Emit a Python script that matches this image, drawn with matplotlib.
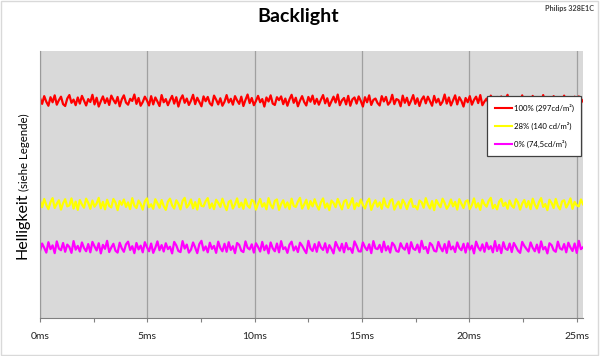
import numpy as np
import matplotlib
matplotlib.use("Agg")
import matplotlib.pyplot as plt
from matplotlib.patches import Rectangle

# --- chart data (brightness in % of axis height, time in ms) ---
T_END = 25.3
TICKS_MS = [0, 5, 10, 15, 20, 25]
TICK_LABELS = ['0ms', '5ms', '10ms', '15ms', '20ms', '25ms']
LABELS = ['100% (297cd/m²)', '28% (140 cd/m²)', '0% (74,5cd/m²)']
COLORS = ['#ff0000', '#ffff00', '#ff00ff']

red = [
    82.4, 80.2, 83.1, 81.0, 79.5, 82.7, 80.8, 83.4, 79.9, 81.6, 82.9, 80.1, 79.4, 82.2, 83.5, 80.6, 81.8, 79.7, 82.6, 80.3,
    83.2, 81.4, 79.6, 82.0, 80.9, 83.6, 80.0, 82.5, 79.2, 81.2, 83.0, 80.5, 82.3, 79.8, 83.3, 81.7, 80.4, 82.8, 79.3, 81.9,
    83.4, 80.7, 79.9, 82.1, 81.3, 83.7, 80.2, 82.4, 79.5, 80.9, 82.9, 81.5, 79.6, 83.1, 80.0, 82.6, 81.1, 79.4, 83.5, 80.8,
    82.0, 79.7, 81.6, 83.2, 80.3, 82.7, 79.2, 81.9, 83.4, 80.6, 82.2, 79.8, 81.4, 83.6, 80.1, 82.5, 80.9, 79.3, 83.0, 81.2,
    82.8, 80.4, 79.6, 83.3, 81.8, 80.0, 82.3, 79.5, 81.0, 83.5, 80.7, 82.1, 79.9, 83.1, 81.5, 80.2, 82.9, 79.4, 81.7, 83.7,
    80.5, 82.4, 79.7, 81.3, 83.2, 80.8, 82.0, 79.2, 82.6, 81.1, 83.4, 80.3, 79.8, 82.7, 81.6, 83.0, 80.1, 82.2, 79.5, 81.9,
    83.6, 80.6, 82.5, 79.3, 81.4, 83.1, 80.9, 79.6, 82.8, 81.0, 83.3, 80.2, 82.1, 79.9, 81.8, 83.5, 80.4, 82.3, 79.4, 81.2,
    82.9, 80.7, 83.7, 79.7, 81.5, 82.4, 80.0, 83.2, 79.5, 81.9, 82.6, 80.3, 83.0, 81.3, 79.2, 82.7, 80.8, 83.4, 79.8, 81.7,
    82.2, 80.5, 79.6, 83.1, 81.1, 82.8, 79.9, 80.9, 83.6, 80.1, 82.0, 81.6, 79.3, 83.3, 80.6, 82.5, 79.7, 81.4, 83.5, 80.2,
    82.3, 79.4, 81.8, 83.0, 80.4, 82.9, 81.2, 79.5, 83.2, 80.7, 82.1, 79.8, 81.0, 83.7, 80.3, 82.6, 79.6, 81.5, 83.4, 80.0,
    82.7, 81.3, 79.2, 82.4, 80.8, 83.1, 79.9, 81.7, 82.9, 80.5, 83.5, 79.7, 81.1, 82.2, 80.2, 83.3, 81.6, 79.4, 82.8, 80.6,
    83.0, 79.8, 81.9, 83.6, 80.1, 82.5, 79.5, 81.2, 82.3, 80.9, 83.4, 79.3, 82.0, 81.4, 80.4, 83.2, 79.6, 82.7, 81.0, 80.3,
    83.5, 80.7, 82.1, 79.9, 81.8, 83.1, 80.0, 82.6, 79.4, 81.5, 83.3, 80.8, 82.4, 79.7, 81.3, 82.9, 80.2, 83.0, 80.6, 81.6,
]

yellow = [
    43.9, 41.5, 44.6, 42.3, 40.8, 43.4, 44.9, 41.2, 42.8, 44.1, 40.6, 43.0, 44.5, 41.8, 42.2, 44.8, 41.0, 43.6, 40.5, 44.2,
    42.5, 41.3, 44.7, 43.1, 40.9, 44.0, 41.7, 42.9, 45.0, 41.1, 43.5, 40.7, 44.3, 42.0, 41.4, 44.6, 43.2, 40.4, 43.8, 42.4,
    44.4, 41.6, 43.3, 40.8, 44.9, 42.1, 41.2, 44.0, 42.7, 40.6, 43.7, 44.8, 41.5, 42.6, 40.9, 44.5, 43.0, 41.3, 44.2, 41.9,
    40.5, 43.6, 44.7, 42.2, 41.0, 44.1, 42.8, 40.7, 43.9, 45.0, 41.4, 42.5, 44.4, 41.1, 43.4, 40.6, 44.6, 42.0, 41.8, 43.8,
    44.9, 41.2, 42.9, 40.8, 44.3, 43.1, 41.6, 44.7, 42.3, 40.4, 43.5, 44.0, 41.0, 42.6, 44.8, 41.5, 43.2, 40.9, 44.5, 42.1,
    41.3, 44.2, 43.7, 40.6, 42.8, 44.6, 41.7, 43.0, 40.7, 44.9, 42.4, 41.1, 43.9, 44.4, 40.5, 42.7, 44.1, 41.4, 43.3, 40.8,
    44.7, 42.0, 41.6, 43.6, 45.0, 41.0, 42.5, 44.3, 40.9, 43.8, 41.8, 44.5, 42.2, 40.6, 43.4, 44.8, 41.3, 42.9, 40.4, 44.0,
    43.1, 41.5, 44.6, 42.6, 40.7, 43.7, 44.2, 41.2, 42.8, 44.9, 40.8, 43.0, 41.9, 44.4, 42.3, 41.0, 43.5, 44.7, 40.5, 42.7,
    44.1, 41.7, 43.3, 40.9, 44.8, 42.1, 41.4, 43.9, 44.5, 40.6, 42.4, 43.6, 41.1, 44.3, 42.9, 40.8, 43.2, 44.6, 41.6, 42.0,
    40.7, 44.0, 43.4, 41.3, 44.9, 42.5, 41.0, 43.8, 40.4, 44.2, 42.7, 41.5, 44.7, 43.1, 40.9, 42.2, 44.4, 41.8, 43.5, 40.6,
    44.5, 42.8, 41.2, 43.7, 44.1, 40.8, 42.3, 44.8, 41.4, 43.0, 40.5, 44.3, 42.6, 41.7, 43.9, 45.0, 41.1, 42.4, 40.7, 43.6,
    44.6, 41.9, 43.2, 40.9, 44.0, 42.1, 41.3, 44.5, 43.3, 40.6, 42.9, 44.2, 41.5, 43.8, 40.8, 44.7, 42.5, 41.0, 43.4, 44.9,
    41.6, 42.7, 40.4, 44.3, 43.1, 41.2, 44.6, 42.0, 40.7, 43.7, 44.1, 41.4, 42.8, 44.8, 40.9, 43.5, 42.2, 41.8, 44.4, 42.6,
]

magenta = [
    25.1, 27.9, 26.3, 24.5, 28.4, 25.8, 27.2, 24.3, 28.7, 26.0, 25.4, 28.1, 24.8, 27.5, 26.6, 24.4, 28.8, 25.6, 27.0, 24.9,
    28.3, 26.2, 25.0, 27.7, 24.6, 28.5, 26.8, 25.3, 28.0, 24.2, 27.4, 25.9, 28.9, 24.7, 26.4, 27.8, 25.2, 24.5, 28.2, 26.1,
    24.8, 27.6, 28.6, 25.5, 26.9, 24.3, 28.1, 25.7, 27.1, 24.6, 28.4, 26.5, 25.0, 27.9, 24.4, 26.3, 28.7, 25.4, 27.3, 24.9,
    28.0, 25.8, 26.7, 24.2, 28.5, 27.2, 25.1, 24.7, 28.8, 26.0, 27.5, 24.5, 25.6, 28.3, 26.4, 24.3, 27.7, 28.9, 25.3, 26.8,
    24.6, 28.2, 25.9, 27.0, 24.4, 28.6, 26.2, 25.0, 27.8, 24.8, 28.4, 25.5, 26.9, 24.3, 28.1, 27.4, 25.2, 24.7, 28.7, 26.3,
    25.7, 27.6, 24.5, 28.0, 26.6, 24.9, 28.5, 25.4, 27.2, 24.2, 28.3, 26.1, 25.0, 27.9, 24.6, 28.8, 25.8, 26.5, 24.4, 27.5,
    28.6, 25.3, 26.8, 24.7, 28.2, 27.1, 25.6, 24.3, 28.9, 26.0, 25.1, 27.7, 24.8, 28.4, 26.4, 25.5, 28.0, 24.5, 27.3, 25.9,
    24.2, 28.5, 26.7, 25.2, 27.8, 24.6, 28.1, 25.7, 26.2, 24.4, 28.7, 27.0, 25.0, 24.9, 28.3, 26.5, 25.4, 27.6, 24.3, 28.8,
    26.1, 25.8, 27.4, 24.7, 28.6, 25.3, 26.9, 24.5, 28.2, 27.2, 25.1, 24.8, 28.0, 26.3, 25.6, 27.9, 24.2, 28.4, 26.0, 25.5,
    27.5, 24.6, 28.9, 25.9, 26.6, 24.3, 28.1, 27.3, 25.2, 24.9, 28.5, 26.4, 25.0, 27.7, 24.4, 28.7, 25.7, 26.8, 24.7, 28.3,
    26.2, 25.4, 27.8, 24.5, 28.0, 25.6, 27.1, 24.2, 28.6, 26.5, 25.3, 27.6, 24.8, 28.2, 25.8, 26.9, 24.6, 28.8, 25.1, 27.4,
    24.3, 28.4, 26.0, 25.5, 27.9, 24.7, 28.1, 26.7, 25.2, 24.4, 28.5, 27.0, 25.9, 24.9, 28.3, 26.3, 25.0, 27.5, 24.5, 28.7,
    25.7, 26.6, 24.2, 28.0, 27.3, 25.4, 24.8, 28.6, 26.1, 25.6, 27.7, 24.6, 28.2, 26.4, 25.1, 27.9, 24.4, 28.9, 25.8, 26.5,
]

FONT = ['Lato', 'DejaVu Sans']
plt.rcParams['font.family'] = FONT

fig = plt.figure(figsize=(6.0, 3.56), dpi=100)
fig.patch.set_facecolor('white')
# thin light frame round the whole chart
fig.add_artist(Rectangle((0.002, 0.003), 0.994, 0.994, transform=fig.transFigure,
                         fill=False, edgecolor='#d9d9d9', linewidth=1))

ax = fig.add_axes([0.0667, 0.1067, 0.905, 0.75])
ax.set_facecolor('#d9d9d9')

for series, color, label in zip([red, yellow, magenta], COLORS, LABELS):
    t = np.linspace(0, T_END, len(series))
    ax.plot(t, series, color=color, linewidth=1.6, label=label)

ax.set_xlim(0, T_END)
ax.set_ylim(0, 100)
ax.set_xticks(TICKS_MS)
ax.set_xticklabels(TICK_LABELS, fontsize=7.5, color='#222222')
ax.set_xticks([2.5, 7.5, 12.5, 17.5, 22.5], minor=True)
ax.set_yticks([])
ax.tick_params(axis='x', which='both', direction='out', length=3, width=0.8,
               color='#808080', pad=7)
ax.xaxis.grid(True, color='#a0a0a0', linewidth=0.9)
ax.set_axisbelow(True)

for side in ['top', 'right']:
    ax.spines[side].set_visible(False)
ax.spines['left'].set_color('#9a9a9a')
ax.spines['bottom'].set_color('#808080')

leg = ax.legend(loc='upper right', bbox_to_anchor=(0.997, 0.83), fontsize=5.6,
                frameon=True, fancybox=False, handlelength=2.2, handletextpad=0.2,
                labelspacing=1.25, borderpad=1.0, borderaxespad=0)
leg.get_frame().set_edgecolor('#404040')
leg.get_frame().set_linewidth(0.9)
leg.get_frame().set_facecolor('white')
leg.get_frame().set_alpha(1)
for line in leg.get_lines():
    line.set_linewidth(1.5)

fig.text(0.497, 0.955, 'Backlight', ha='center', va='center', fontsize=14,
         fontweight='bold', color='black')
fig.text(0.99, 0.977, 'Philips 328E1C', ha='right', va='center', fontsize=5.2,
         fontweight='bold', color='#404040')

fig.text(0.037, (356 - 259) / 356, 'Helligkeit', rotation=90, ha='center', va='bottom',
         fontsize=11.5, color='black')
fig.text(0.040, (356 - 191) / 356, '(siehe Legende)', rotation=90, ha='center', va='bottom',
         fontsize=8.2, color='black')

fig.savefig('out.png', dpi=100)
